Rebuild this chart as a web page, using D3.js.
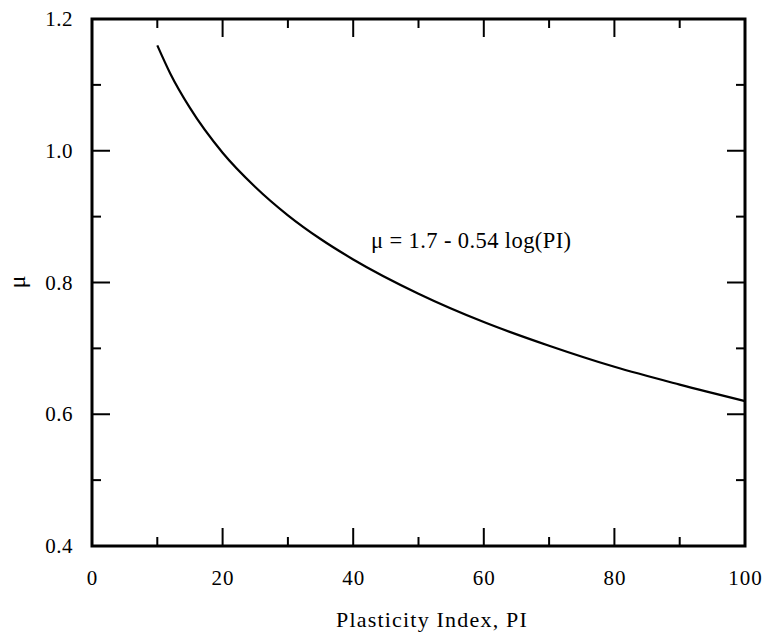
<!DOCTYPE html>
<html><head><meta charset="utf-8">
<script src="https://cdn.jsdelivr.net/npm/d3@7"></script>
<style>body{margin:0;background:#fff}svg{display:block}</style>
</head><body><svg id="c" width="764" height="637"></svg>
<script>
const piValues = [10,12,15,20,25,30,35,40,50,60,70,80,90,100];
const muValues = [1.16,1.117,1.065,0.997,0.945,0.902,0.866,0.835,0.783,0.740,0.704,0.672,0.645,0.62];
const xMajorTicks = [0,20,40,60,80,100];
const xMinorTicks = [10,30,50,70,90];
const yMajorTicks = [0.4,0.6,0.8,1.0,1.2];
const yMinorTicks = [0.5,0.7,0.9,1.1];
const xTitle = "Plasticity Index, PI";
const yTitle = "\u03bc";
const annotation = "\u03bc = 1.7 - 0.54 log(PI)";

const FONT = '"Liberation Serif"';
const svg = d3.select("#c");
const L=92,R=745,T=19,B=546;
const x = d3.scaleLinear().domain([0,100]).range([L,R]);
const y = d3.scaleLinear().domain([0.4,1.2]).range([B,T]);
const maj=18, mi=9;
const g = svg.append("g").attr("stroke","#000").attr("stroke-width",2);
xMajorTicks.forEach(v=>{
  g.append("line").attr("x1",x(v)).attr("x2",x(v)).attr("y1",B).attr("y2",B-maj);
  g.append("line").attr("x1",x(v)).attr("x2",x(v)).attr("y1",T).attr("y2",T+maj);
});
xMinorTicks.forEach(v=>{
  g.append("line").attr("x1",x(v)).attr("x2",x(v)).attr("y1",B).attr("y2",B-mi);
  g.append("line").attr("x1",x(v)).attr("x2",x(v)).attr("y1",T).attr("y2",T+mi);
});
yMajorTicks.forEach(v=>{
  g.append("line").attr("y1",y(v)).attr("y2",y(v)).attr("x1",L).attr("x2",L+maj);
  g.append("line").attr("y1",y(v)).attr("y2",y(v)).attr("x1",R).attr("x2",R-maj);
});
yMinorTicks.forEach(v=>{
  g.append("line").attr("y1",y(v)).attr("y2",y(v)).attr("x1",L).attr("x2",L+mi);
  g.append("line").attr("y1",y(v)).attr("y2",y(v)).attr("x1",R).attr("x2",R-mi);
});
svg.append("rect").attr("x",L).attr("y",T).attr("width",R-L).attr("height",B-T)
  .attr("fill","none").attr("stroke","#000").attr("stroke-width",3);
svg.append("g").selectAll("text").data(xMajorTicks).join("text")
  .style("font-family",FONT).style("letter-spacing","1px")
  .attr("x",d=>x(d)+0.5).attr("y",585).attr("text-anchor","middle").attr("font-size",21).text(d=>d);
svg.append("g").selectAll("text").data(yMajorTicks).join("text")
  .style("font-family",FONT).style("letter-spacing","0.5px")
  .attr("x",73).attr("y",d=>y(d)+7).attr("text-anchor","end").attr("font-size",21).text(d=>d.toFixed(1));
svg.append("text").style("font-family",FONT).style("letter-spacing","1.2px")
  .attr("x",432).attr("y",627).attr("text-anchor","middle").attr("font-size",22).text(xTitle);
svg.append("text").style("font-family",FONT).attr("transform","translate(25,282) rotate(-90)").attr("text-anchor","middle").attr("font-size",24).text(yTitle);
svg.append("text").style("font-family",FONT).style("letter-spacing","0.4px")
  .attr("x",371).attr("y",248).attr("font-size",22.5).text(annotation);
const line = d3.line().x((d,i)=>x(piValues[i])).y(d=>y(d)).curve(d3.curveMonotoneX);
svg.append("path").datum(muValues).attr("d",line).attr("fill","none").attr("stroke","#000").attr("stroke-width",2.2);
</script></body></html>
